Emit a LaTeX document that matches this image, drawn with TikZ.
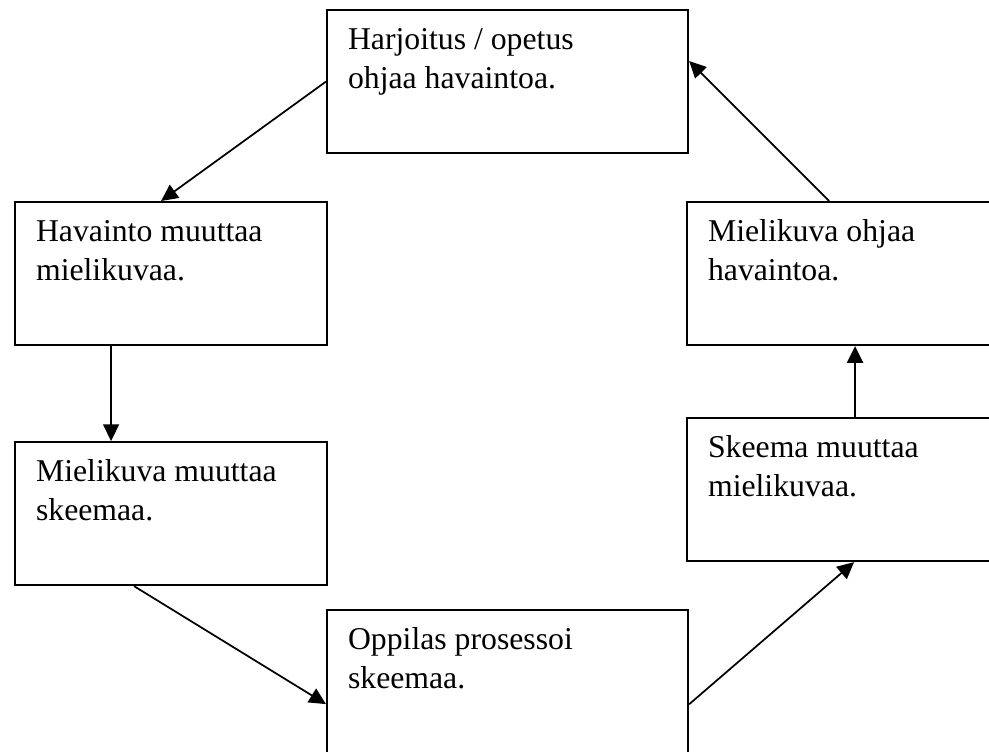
\documentclass[tikz,border=0pt]{standalone}
\usepackage{fontspec}
\setmainfont{Liberation Serif}
\usepackage{tikz}
\usetikzlibrary{arrows.meta,calc,positioning}

\newcommand{\stagetext}[2]{\begin{minipage}[c][107.25pt][t]{#1}\raggedright\rule{0pt}{29.25pt}#2\end{minipage}}

\begin{document}
\begin{tikzpicture}[x=0.75pt,y=-0.75pt,>={Triangle[length=12.5pt,width=12pt]},
  stage/.style={draw,line width=1.6pt,rectangle,anchor=north west,inner xsep=15.75pt,inner ysep=0pt,
    font=\fontsize{23.8}{29.25}\selectfont},
  wide/.style={stage,minimum width=270.75pt,minimum height=107.25pt},
  side/.style={stage,minimum width=234pt,minimum height=107.25pt},
  flow/.style={->,line width=1.3pt}]
  \useasboundingbox (0,0) rectangle (989,751);
  \clip (0,0) rectangle (989,751);

  % Boxes
  \node[wide] (teach) at (326,9) {\stagetext{239.25pt}{Harjoitus / opetus\\ohjaa havaintoa.}};
  \node[side] (perceive) at (14,201) {\stagetext{202.5pt}{Havainto muuttaa\\mielikuvaa.}};
  \node[side] (image) at (14,441) {\stagetext{202.5pt}{Mielikuva muuttaa\\skeemaa.}};
  \node[wide] (pupil) at (326,609) {\stagetext{239.25pt}{Oppilas prosessoi\\skeemaa.}};
  \node[side] (schema) at (686,417) {\stagetext{202.5pt}{Skeema muuttaa\\mielikuvaa.}};
  \node[side] (mental) at (686,201) {\stagetext{202.5pt}{Mielikuva ohjaa\\havaintoa.}};

  % Cycle
  \draw[flow] (teach.west) -- ([xshift=-7.5pt]perceive.north);
  \draw[flow] ([xshift=-45pt]perceive.south) -- ([xshift=-45pt]image.north);
  \draw[flow] ([xshift=-27.75pt]image.south) -- ([yshift=-16.9pt]pupil.west);
  \draw[flow] ([yshift=-17pt]pupil.east) -- ([xshift=8.25pt]schema.south);
  \draw[flow] ([xshift=9pt]schema.north) -- ([xshift=9pt]mental.south);
  \draw[flow] ([xshift=-10.5pt]mental.north) -- ([yshift=15.4pt]teach.east);
\end{tikzpicture}
\end{document}
